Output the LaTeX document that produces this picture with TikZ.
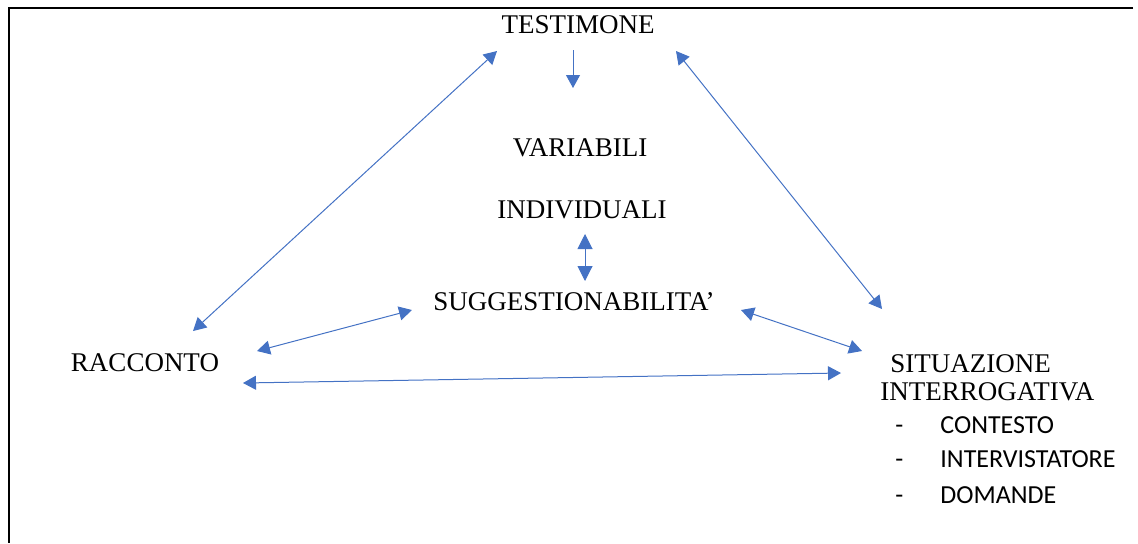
\documentclass[tikz,border=0pt]{standalone}
\usepackage{fontspec}
\setmainfont{Liberation Serif}
\newfontfamily\listfont{Carlito}
\usetikzlibrary{arrows.meta,positioning,calc}
\definecolor{linkblue}{HTML}{4472C4}
\begin{document}
\begin{tikzpicture}[x=0.5pt,y=-0.5pt,
    lbl/.style={font=\fontsize{13.5}{16}\selectfont, inner sep=0pt},
    item/.style={font=\listfont\fontsize{13}{15}\selectfont, inner sep=0pt, anchor=base west},
    link/.style={draw=linkblue, line width=0.5pt, -{Triangle[length=6.5pt,width=7pt]}, color=linkblue},
    both/.style={link, {Triangle[length=6.5pt,width=7pt]}-{Triangle[length=6.5pt,width=7pt]}},
  ]
    \useasboundingbox (0,0) rectangle (1138,543);
    % frame
    \draw[line width=1pt] (1133,8) -- (9,8) -- (9,543);
    % labels
    \node[lbl, anchor=base] (testimone) at (578,33) {TESTIMONE};
    \node[lbl, anchor=base] (variabili) at (580,156) {VARIABILI};
    \node[lbl, anchor=base] (individuali) at (582,218) {INDIVIDUALI};
    \node[lbl, anchor=base] (sugg) at (574,310) {SUGGESTIONABILITA'};
    \node[lbl, anchor=base] (racconto) at (145,371) {RACCONTO};
    \node[lbl, anchor=base west] (situazione) at (890,372) {SITUAZIONE};
    \node[lbl, anchor=base west] (interrog) at (880,400) {INTERROGATIVA};
    \foreach \name/\txt/\yy in {contesto/CONTESTO/433, intervistatore/INTERVISTATORE/467, domande/DOMANDE/503} {
      \node[item] (dash-\name) at (895,\yy) {-};
      \node[item] (\name) at (940,\yy) {\txt};
    }
    % connector ends
    \coordinate (t-down) at (573,50);
    \coordinate (v-top) at (573,88);
    \coordinate (t-left) at (497,51);
    \coordinate (r-top) at (193,331);
    \coordinate (t-right) at (676,51);
    \coordinate (s-top) at (882,309);
    \coordinate (i-low) at (585,234);
    \coordinate (g-top) at (585,281);
    \coordinate (r-right) at (257,351);
    \coordinate (g-left) at (412,310);
    \coordinate (g-right) at (741,310);
    \coordinate (s-left) at (862,351);
    \coordinate (r-low) at (243,383);
    \coordinate (s-low) at (841,373);
    % connectors
    \draw[link] (t-down) -- (v-top);
    \draw[both] (t-left) -- (r-top);
    \draw[both] (t-right) -- (s-top);
    \draw[both, {Triangle[length=7.5pt,width=7.5pt]}-{Triangle[length=7.5pt,width=7.5pt]}] (i-low) -- (g-top);
    \draw[both] (r-right) -- (g-left);
    \draw[both] (g-right) -- (s-left);
    \draw[both] (r-low) -- (s-low);
\end{tikzpicture}
\end{document}
